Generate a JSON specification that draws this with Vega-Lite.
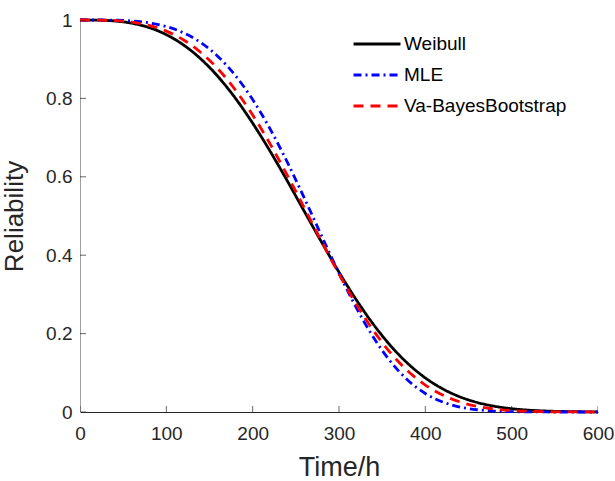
{
  "$schema": "https://vega.github.io/schema/vega-lite/v6.json",
  "width": 518,
  "height": 392,
  "autosize": {"type": "none"},
  "padding": {"left": 80, "top": 20, "right": 17, "bottom": 69},
  "background": "white",
  "config": {
    "view": {"stroke": null},
    "font": "Liberation Sans",
    "legend": {
      "orient": "none",
      "legendX": 272,
      "legendY": 14,
      "title": null,
      "symbolType": "stroke",
      "symbolSize": 2209,
      "symbolStrokeWidth": 2.8,
      "clipHeight": 20,
      "rowPadding": 11,
      "labelFontSize": 19,
      "labelLimit": 400,
      "labelColor": "#000000",
      "labelOffset": 2,
      "labelFont": "Liberation Sans"
    }
  },
  "datasets": {
    "curves": [
      {"t": 0, "R": 1, "s": "Weibull"},
      {"t": 20, "R": 0.99969, "s": "Weibull"},
      {"t": 40, "R": 0.99756, "s": "Weibull"},
      {"t": 60, "R": 0.99179, "s": "Weibull"},
      {"t": 80, "R": 0.98065, "s": "Weibull"},
      {"t": 100, "R": 0.96255, "s": "Weibull"},
      {"t": 120, "R": 0.93617, "s": "Weibull"},
      {"t": 140, "R": 0.90056, "s": "Weibull"},
      {"t": 160, "R": 0.85526, "s": "Weibull"},
      {"t": 180, "R": 0.80043, "s": "Weibull"},
      {"t": 200, "R": 0.73684, "s": "Weibull"},
      {"t": 220, "R": 0.666, "s": "Weibull"},
      {"t": 240, "R": 0.58998, "s": "Weibull"},
      {"t": 260, "R": 0.51124, "s": "Weibull"},
      {"t": 280, "R": 0.4326, "s": "Weibull"},
      {"t": 300, "R": 0.35678, "s": "Weibull"},
      {"t": 320, "R": 0.2863, "s": "Weibull"},
      {"t": 340, "R": 0.22307, "s": "Weibull"},
      {"t": 360, "R": 0.16846, "s": "Weibull"},
      {"t": 380, "R": 0.12316, "s": "Weibull"},
      {"t": 400, "R": 0.08691, "s": "Weibull"},
      {"t": 420, "R": 0.05914, "s": "Weibull"},
      {"t": 440, "R": 0.03873, "s": "Weibull"},
      {"t": 460, "R": 0.02434, "s": "Weibull"},
      {"t": 480, "R": 0.01467, "s": "Weibull"},
      {"t": 500, "R": 0.00847, "s": "Weibull"},
      {"t": 520, "R": 0.00467, "s": "Weibull"},
      {"t": 540, "R": 0.00245, "s": "Weibull"},
      {"t": 560, "R": 0.00123, "s": "Weibull"},
      {"t": 580, "R": 0.00058, "s": "Weibull"},
      {"t": 600, "R": 0.00026, "s": "Weibull"},
      {"t": 0, "R": 1, "s": "MLE"},
      {"t": 20, "R": 0.99996, "s": "MLE"},
      {"t": 40, "R": 0.99946, "s": "MLE"},
      {"t": 60, "R": 0.99752, "s": "MLE"},
      {"t": 80, "R": 0.99272, "s": "MLE"},
      {"t": 100, "R": 0.98327, "s": "MLE"},
      {"t": 120, "R": 0.96713, "s": "MLE"},
      {"t": 140, "R": 0.94216, "s": "MLE"},
      {"t": 160, "R": 0.90639, "s": "MLE"},
      {"t": 180, "R": 0.85822, "s": "MLE"},
      {"t": 200, "R": 0.79697, "s": "MLE"},
      {"t": 220, "R": 0.72292, "s": "MLE"},
      {"t": 240, "R": 0.63778, "s": "MLE"},
      {"t": 260, "R": 0.54486, "s": "MLE"},
      {"t": 280, "R": 0.44858, "s": "MLE"},
      {"t": 300, "R": 0.35401, "s": "MLE"},
      {"t": 320, "R": 0.2664, "s": "MLE"},
      {"t": 340, "R": 0.19006, "s": "MLE"},
      {"t": 360, "R": 0.12778, "s": "MLE"},
      {"t": 380, "R": 0.08048, "s": "MLE"},
      {"t": 400, "R": 0.04717, "s": "MLE"},
      {"t": 420, "R": 0.02555, "s": "MLE"},
      {"t": 440, "R": 0.01269, "s": "MLE"},
      {"t": 460, "R": 0.00575, "s": "MLE"},
      {"t": 480, "R": 0.00236, "s": "MLE"},
      {"t": 500, "R": 0.00087, "s": "MLE"},
      {"t": 520, "R": 0.00028, "s": "MLE"},
      {"t": 540, "R": 0.00008, "s": "MLE"},
      {"t": 560, "R": 0.00002, "s": "MLE"},
      {"t": 580, "R": 0.00001, "s": "MLE"},
      {"t": 600, "R": 0, "s": "MLE"},
      {"t": 0, "R": 1, "s": "Va-BayesBootstrap"},
      {"t": 20, "R": 0.99985, "s": "Va-BayesBootstrap"},
      {"t": 40, "R": 0.99856, "s": "Va-BayesBootstrap"},
      {"t": 60, "R": 0.9946, "s": "Va-BayesBootstrap"},
      {"t": 80, "R": 0.98623, "s": "Va-BayesBootstrap"},
      {"t": 100, "R": 0.97164, "s": "Va-BayesBootstrap"},
      {"t": 120, "R": 0.94913, "s": "Va-BayesBootstrap"},
      {"t": 140, "R": 0.91719, "s": "Va-BayesBootstrap"},
      {"t": 160, "R": 0.87479, "s": "Va-BayesBootstrap"},
      {"t": 180, "R": 0.82147, "s": "Va-BayesBootstrap"},
      {"t": 200, "R": 0.75774, "s": "Va-BayesBootstrap"},
      {"t": 220, "R": 0.68463, "s": "Va-BayesBootstrap"},
      {"t": 240, "R": 0.60436, "s": "Va-BayesBootstrap"},
      {"t": 260, "R": 0.51979, "s": "Va-BayesBootstrap"},
      {"t": 280, "R": 0.43441, "s": "Va-BayesBootstrap"},
      {"t": 300, "R": 0.35177, "s": "Va-BayesBootstrap"},
      {"t": 320, "R": 0.27522, "s": "Va-BayesBootstrap"},
      {"t": 340, "R": 0.20742, "s": "Va-BayesBootstrap"},
      {"t": 360, "R": 0.1501, "s": "Va-BayesBootstrap"},
      {"t": 380, "R": 0.10402, "s": "Va-BayesBootstrap"},
      {"t": 400, "R": 0.06878, "s": "Va-BayesBootstrap"},
      {"t": 420, "R": 0.04328, "s": "Va-BayesBootstrap"},
      {"t": 440, "R": 0.02586, "s": "Va-BayesBootstrap"},
      {"t": 460, "R": 0.0146, "s": "Va-BayesBootstrap"},
      {"t": 480, "R": 0.00776, "s": "Va-BayesBootstrap"},
      {"t": 500, "R": 0.00388, "s": "Va-BayesBootstrap"},
      {"t": 520, "R": 0.00182, "s": "Va-BayesBootstrap"},
      {"t": 540, "R": 0.00079, "s": "Va-BayesBootstrap"},
      {"t": 560, "R": 0.00032, "s": "Va-BayesBootstrap"},
      {"t": 580, "R": 0.00012, "s": "Va-BayesBootstrap"},
      {"t": 600, "R": 0.00004, "s": "Va-BayesBootstrap"}
    ],
    "xticks": [{"v": 0}, {"v": 100}, {"v": 200}, {"v": 300}, {"v": 400}, {"v": 500}, {"v": 600}],
    "yticks": [{"v": 0}, {"v": 0.2}, {"v": 0.4}, {"v": 0.6}, {"v": 0.8}, {"v": 1}]
  },
  "layer": [
    {
      "data": {"name": "curves"},
      "mark": {"type": "line", "strokeWidth": 2.8, "interpolate": "monotone"},
      "encoding": {
        "x": {
          "field": "t",
          "type": "quantitative",
          "title": "Time/h",
          "scale": {"domain": [0, 600], "nice": false},
          "axis": {
            "values": [0, 100, 200, 300, 400, 500, 600],
            "format": "d",
            "grid": false,
            "ticks": false,
            "labelFlush": false,
            "labelPadding": 12,
            "labelFontSize": 19,
            "labelColor": "#262626",
            "labelFont": "Liberation Sans",
            "domainColor": "#262626",
            "titleFontSize": 27,
            "titleFontWeight": "normal",
            "titleColor": "#262626",
            "titleFont": "Liberation Sans",
            "titlePadding": 11
          }
        },
        "y": {
          "field": "R",
          "type": "quantitative",
          "title": "Reliability",
          "scale": {"domain": [0, 1], "nice": false},
          "axis": {
            "values": [0, 0.2, 0.4, 0.6, 0.8, 1],
            "format": "~g",
            "grid": false,
            "ticks": false,
            "labelFlush": false,
            "labelPadding": 8,
            "labelFontSize": 19,
            "labelColor": "#262626",
            "labelFont": "Liberation Sans",
            "domainColor": "#a0a0a0",
            "titleFontSize": 26,
            "titleFontWeight": "normal",
            "titleColor": "#262626",
            "titleFont": "Liberation Sans",
            "titlePadding": 18
          }
        },
        "color": {
          "field": "s",
          "type": "nominal",
          "sort": null,
          "scale": {"domain": ["Weibull", "MLE", "Va-BayesBootstrap"], "range": ["#000000", "#0000ff", "#ff0000"]}
        },
        "strokeDash": {
          "field": "s",
          "type": "nominal",
          "sort": null,
          "scale": {"domain": ["Weibull", "MLE", "Va-BayesBootstrap"], "range": [[1, 0], [8, 4, 2, 4], [10, 7]]}
        }
      }
    },
    {
      "data": {"name": "xticks"},
      "mark": {"type": "tick", "orient": "vertical", "size": 12, "thickness": 1, "color": "#262626", "clip": true},
      "encoding": {
        "x": {"field": "v", "type": "quantitative", "title": "Time/h"},
        "y": {"datum": 0, "type": "quantitative", "title": "Reliability"}
      }
    },
    {
      "data": {"name": "yticks"},
      "mark": {"type": "tick", "orient": "horizontal", "size": 12, "thickness": 1, "color": "#262626", "clip": true},
      "encoding": {
        "y": {"field": "v", "type": "quantitative", "title": "Reliability"},
        "x": {"datum": 0, "type": "quantitative", "title": "Time/h"}
      }
    }
  ]
}
